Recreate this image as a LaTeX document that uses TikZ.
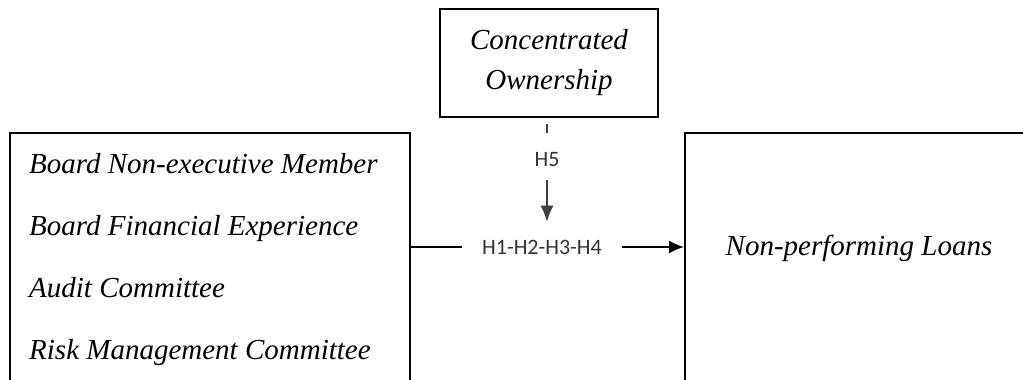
\documentclass[tikz,border=0pt]{standalone}
\usepackage{fontspec}
\setmainfont{Liberation Serif}
\newfontfamily\hypfont{Carlito}
\usetikzlibrary{arrows.meta}

\begin{document}
\begin{tikzpicture}[x=1pt,y=-1pt,
    box/.style={draw, line width=2pt, inner sep=0pt},
    varname/.style={font=\fontsize{29}{40}\selectfont\itshape, inner sep=0pt},
    hyp/.style={font=\fontsize{22}{24}\selectfont\hypfont, text=black!80, inner sep=0pt},
    link/.style={line width=1.7pt},
    vlink/.style={line width=1.2pt, black!75}]
          \useasboundingbox (0,0) rectangle (1023,380);
          \clip (0,0) rectangle (1023,380);

          \node [box, minimum width=218pt, minimum height=108pt, varname, align=center] (own) at (549,63) {Concentrated\\Ownership}; % moderator

          \node [box, minimum width=400pt, minimum height=267pt] (gov) at (210,266.5) {}; % governance box
          \node [varname, anchor=base west] (bnm) at (29,173) {Board Non-executive Member};
          \node [varname, anchor=base west] (bfe) at (29,235) {Board Financial Experience};
          \node [varname, anchor=base west] (ac) at (29,297) {Audit Committee};
          \node [varname, anchor=base west] (rmc) at (29,359) {Risk Management Committee};

          \node [box, minimum width=360pt, minimum height=267pt] (npl) at (865,266.5) {}; % outcome box
          \node [varname, anchor=base] (npltext) at (859,255) {Non-performing Loans};

          \node [hyp, minimum width=160pt] (hmain) at (542,247) {H1-H2-H3-H4};
          \node [hyp] (hmod) at (547,160) {H5};

          \draw [link] (gov.east |- hmain) -- (hmain.west);
          \draw [link, -{Latex[length=15pt,width=13pt]}] (hmain.east) -- (npl.west |- hmain);

          \draw [vlink, shorten <=6pt, shorten >=20pt] (own.south -| hmod) -- (hmod.north);
          \draw [vlink, shorten <=13pt, shorten >=18pt, -{Latex[length=16pt,width=13pt]}] (hmod.south) -- (hmod.south |- hmain.north);
        \end{tikzpicture}
\end{document}
